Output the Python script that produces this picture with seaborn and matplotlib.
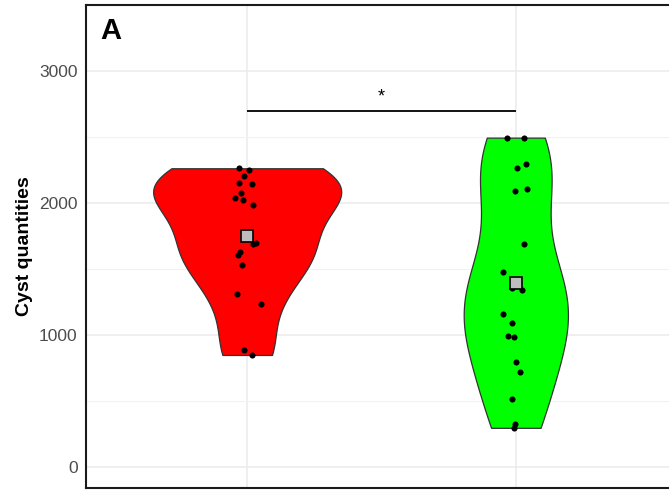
import numpy as np
import pandas as pd
import matplotlib
matplotlib.use("Agg")
import matplotlib.pyplot as plt
import seaborn as sns

# Cyst counts per sample for the two groups
groups = ["Group 1", "Group 2"]
group1_cysts = [2248, 2263, 2202, 2141, 2149, 2073, 2037, 2022, 1982,
                1693, 1686, 1627, 1604, 1531, 1313, 1238, 888, 848]
group2_cysts = [2495, 2495, 2295, 2263, 2093, 2108, 1691, 1478, 1395, 1339,
                1357, 1162, 1091, 987, 992, 797, 716, 511, 324, 296]
fill_colors = ["#FF0000", "#00FF00"]
y_ticks = [0, 1000, 2000, 3000]
signif_label = "*"
signif_height = 2700
panel_tag = "A"

df = pd.DataFrame({
    "group": [groups[0]] * len(group1_cysts) + [groups[1]] * len(group2_cysts),
    "cysts": group1_cysts + group2_cysts,
})


def nrd0_factor(kde):
    # Silverman's rule of thumb (R's bw.nrd0) expressed as a factor of the sd
    x = np.asarray(kde.dataset).ravel()
    sd = np.std(x, ddof=1)
    q75, q25 = np.percentile(x, [75, 25])
    lo = min(sd, (q75 - q25) / 1.34)
    return 0.9 * lo * len(x) ** (-0.2) / sd


plt.rcParams["font.family"] = ["Liberation Sans", "DejaVu Sans"]

fig = plt.figure(figsize=(6.69, 4.90), dpi=100)
ax = fig.add_axes([86 / 669, 2 / 490, 591 / 669, 483 / 490])

sns.violinplot(data=df, x="group", y="cysts", order=groups, hue="group",
               hue_order=groups, palette=fill_colors, legend=False,
               cut=0, inner=None, density_norm="area", common_norm=True,
               width=0.70, bw_method=nrd0_factor, bw_adjust=1.0, gridsize=512,
               linewidth=0.9, linecolor="#333333", saturation=1, ax=ax)

sns.stripplot(data=df, x="group", y="cysts", order=groups, color="black",
              jitter=0.05, size=4.4, linewidth=0, ax=ax,
              zorder=3)

sns.pointplot(data=df, x="group", y="cysts", order=groups, estimator="mean",
              errorbar=None, markers="s", linestyles="none", color="black",
              markersize=8, markerfacecolor="#BEBEBE", markeredgecolor="black",
              markeredgewidth=1.2, ax=ax, zorder=4)

# significance bracket between the two groups
ax.plot([0, 1], [signif_height, signif_height], color="black", lw=1.3,
        solid_capstyle="butt", zorder=5)
ax.text(0.5, signif_height + 40, signif_label, ha="center", va="bottom",
        fontsize=13, color="black")

ax.set_xlim(-0.6, 1.6)
ax.set_ylim(-160, 3500)
ax.set_yticks(y_ticks)
ax.set_yticks([500, 1500, 2500], minor=True)
ax.grid(True, which="major", color="#EBEBEB", lw=1.1, zorder=0)
ax.grid(True, which="minor", axis="y", color="#F2F2F2", lw=0.8, zorder=0)
ax.set_axisbelow(True)
ax.tick_params(axis="y", which="both", length=0, labelsize=12.5,
               labelcolor="#4D4D4D", pad=6)
ax.tick_params(axis="x", length=0, labelbottom=False)
ax.set_xlabel("")
ax.set_ylabel("Cyst quantities", fontsize=14, fontweight="bold")
ax.yaxis.set_label_coords(-0.09, 0.5)
for sp in ax.spines.values():
    sp.set_color("#1A1A1A")
    sp.set_linewidth(1.5)

ax.text(0.025, 0.975, panel_tag, transform=ax.transAxes, ha="left", va="top",
        fontsize=21, fontweight="bold")

fig.savefig("out.png", dpi=100)
